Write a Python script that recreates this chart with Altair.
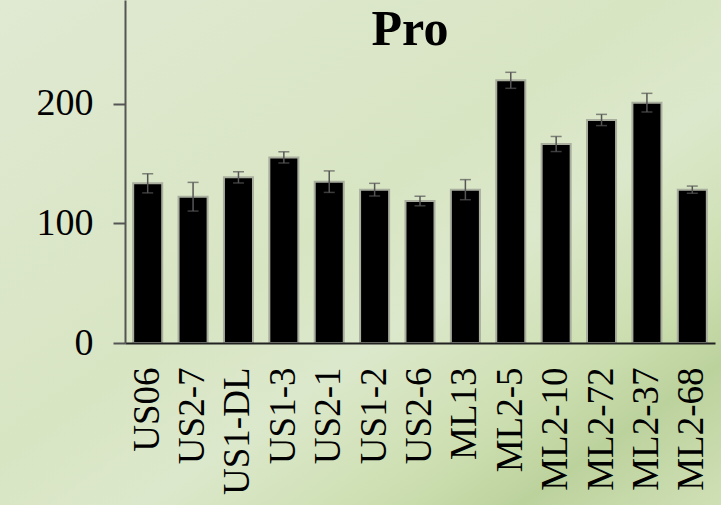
import altair as alt
import pandas as pd

categories = ["US06", "US2-7", "US1-DL", "US1-3", "US2-1", "US1-2", "US2-6",
              "ML13", "ML2-5", "ML2-10", "ML2-72", "ML2-37", "ML2-68"]
values = [133.6, 122.4, 138.6, 155.3, 135.0, 128.3, 118.8,
          128.3, 219.8, 166.5, 186.6, 201.1, 128.3]
errors = [8.0, 12.0, 4.7, 4.7, 9.0, 5.3, 4.0,
          8.4, 6.7, 6.3, 4.7, 7.8, 3.0]
y_ticks = [0, 100, 200]
title_text = "Pro"

df = pd.DataFrame({"cat": categories, "val": values, "err": errors})
df["lo"] = df["val"] - df["err"]
df["hi"] = df["val"] + df["err"]

W, H = 590, 343
FONT = "Liberation Serif"

xenc = alt.X("cat:N", sort=categories,
             scale=alt.Scale(paddingInner=0.36, paddingOuter=0.18),
             axis=alt.Axis(title=None, labelAngle=-90, labelFont=FONT, labelFontSize=37,
                           labelColor="black", ticks=False, labelPadding=24,
                           domainColor="#222222", domainWidth=2, zindex=2))
yscale = alt.Scale(domain=[0, 287], nice=False, zero=True)

grad = alt.LinearGradient(
    gradient="linear", x1=0, y1=0, x2=1, y2=1,
    stops=[
        alt.GradientStop(color="#e0e9d2", offset=0),
        alt.GradientStop(color="#d8e5c3", offset=0.45),
        alt.GradientStop(color="#dce8cb", offset=0.6),
        alt.GradientStop(color="#cddfb1", offset=0.76),
        alt.GradientStop(color="#bcd29d", offset=0.86),
        alt.GradientStop(color="#d0e0b6", offset=1),
    ],
)

bg = alt.Chart(pd.DataFrame({"a": [0]})).mark_rect(color=grad).encode(
    x=alt.value(-125), x2=alt.value(W + 6), y=alt.value(0), y2=alt.value(505)
)

title = alt.Chart(pd.DataFrame({"t": [title_text]})).mark_text(
    font=FONT, fontSize=50, fontWeight="bold", color="black",
    align="center", baseline="alphabetic"
).encode(text="t:N", x=alt.value(285), y=alt.value(45))

bars = alt.Chart(df).mark_bar(color="black", stroke="#a9ae9f", strokeWidth=2).encode(
    x=xenc,
    y=alt.Y("val:Q", scale=yscale,
            axis=alt.Axis(title=None, values=y_ticks, grid=False, labelFont=FONT,
                          labelFontSize=38, labelColor="black", labelPadding=20,
                          tickSize=12, tickColor="#555555", tickWidth=2,
                          domainColor="#555555", domainWidth=2, zindex=2)),
)

rule = alt.Chart(df).mark_rule(color="#555555", strokeWidth=1.5).encode(
    x=alt.X("cat:N", sort=categories), y=alt.Y("lo:Q", scale=yscale), y2="hi:Q"
)
cap_lo = alt.Chart(df).mark_tick(color="#555555", thickness=1.5, size=11).encode(
    x=alt.X("cat:N", sort=categories), y=alt.Y("lo:Q", scale=yscale)
)
cap_hi = alt.Chart(df).mark_tick(color="#555555", thickness=1.5, size=11).encode(
    x=alt.X("cat:N", sort=categories), y=alt.Y("hi:Q", scale=yscale)
)

chart = alt.layer(bg, bars, rule, cap_lo, cap_hi, title).properties(
    width=W, height=H,
    autosize=alt.AutoSizeParams(type="none"),
    padding={"left": 125, "top": 0, "right": 6, "bottom": 162},
    background="#d8e5c2",
).configure_view(stroke=None)

chart.save("out.html", embed_options={"renderer": "svg", "actions": False})
